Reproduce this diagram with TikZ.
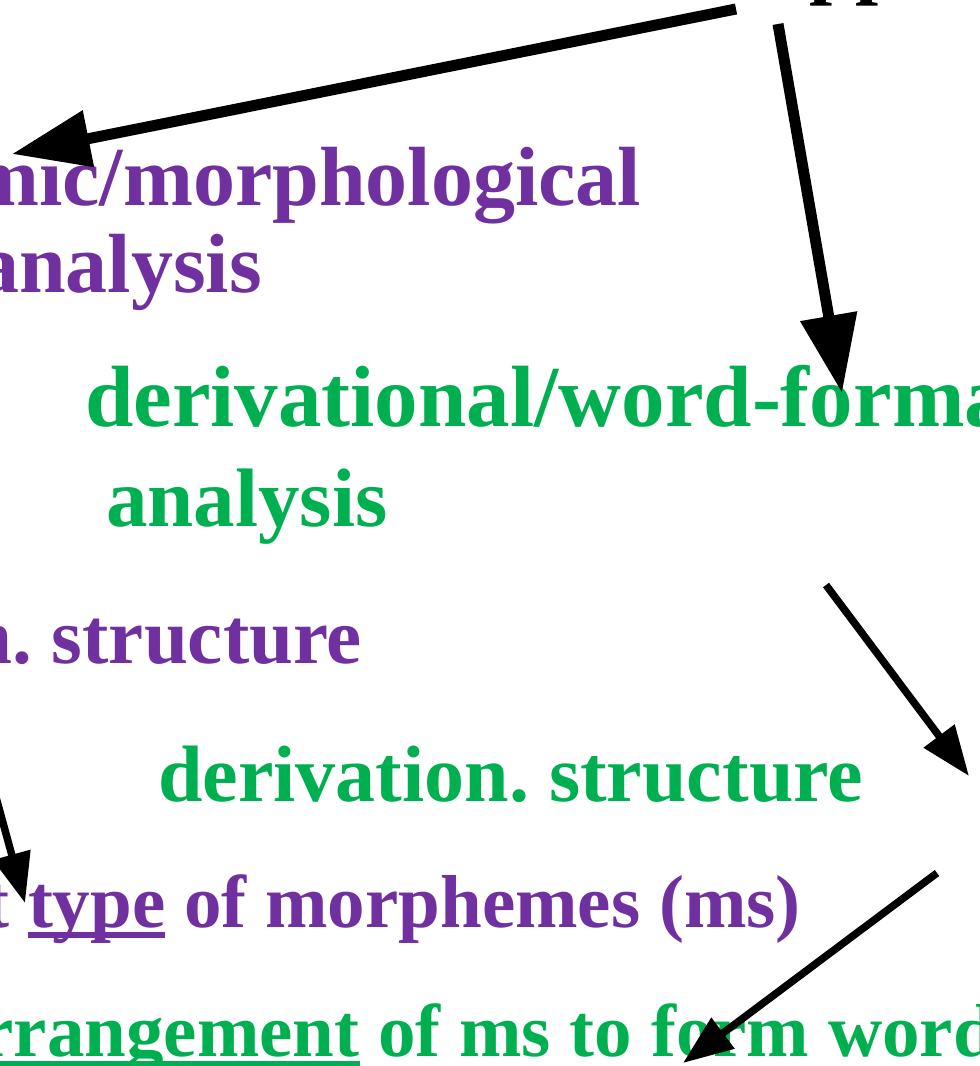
\documentclass[tikz,border=0pt]{standalone}
\usepackage{fontspec}
\setmainfont{Liberation Serif}
\usetikzlibrary{arrows.meta}
\definecolor{ppurple}{HTML}{7030A0}
\definecolor{pgreen}{HTML}{00B050}
\newcommand\myul[1]{\setbox0\hbox{#1}\rlap{\rule[-0.14em]{\wd0}{0.068em}}\box0\relax}
\frenchspacing
\begin{document}
\begin{tikzpicture}[x=1pt,y=-1pt,
  fs/.style={inner sep=0pt, outer sep=0pt, font=\bfseries\fontsize{#1}{#1}\selectfont},
  pur/.style={fs=#1, text=ppurple},
  grn/.style={fs=#1, text=pgreen},
  blk/.style={fs=#1, text=black},
  bigarrow/.style={line width=11pt, -{Triangle[length=78pt,width=55pt]}},
  smallarrow/.style={line width=7.5pt, -{Triangle[length=50pt,width=37pt]}}]
\useasboundingbox (0,0) rectangle (980,1066);

% texts
\node[blk=83, anchor=base west] (title) at (768,-12) {approaches};
\node[pur=84, anchor=base east] (morph1) at (641,205) {morphemic/morphological};
\node[pur=84, anchor=base east] (morph2) at (262,292) {analysis};
\node[grn=87, anchor=base west] (deriv1) at (85,426) {derivational/word-formation};
\node[grn=83, anchor=base west] (deriv2) at (106,526) {analysis};
\node[pur=79, anchor=base east] (mstruct) at (362,663) {composition. structure};
\node[grn=80, anchor=base west] (dstruct) at (158,801) {derivation. structure};
\node[pur=75, anchor=base west] (mtype) at (28,927) {\llap{what }\myul{type} of morphemes (ms)};
\node[grn=75, anchor=base west] (darr) at (-57,1056) {\myul{arrangement} of ms to form words};

% arrow end points
\coordinate (a1s) at (736,9);
\coordinate (a1e) at (12,154);
\coordinate (a2s) at (778,24);
\coordinate (a2e) at (842,393);
\coordinate (a3s) at (826,585);
\coordinate (a3e) at (969,776);
\coordinate (a4s) at (937,873);
\coordinate (a4e) at (683,1063);
\coordinate (a5s) at (-6,790);
\coordinate (a5e) at (25,903);

\draw[bigarrow] (a1s) -- (a1e);
\draw[bigarrow] (a2s) -- (a2e);
\draw[smallarrow] (a3s) -- (a3e);
\draw[smallarrow] (a4s) -- (a4e);
\draw[smallarrow] (a5s) -- (a5e);
\end{tikzpicture}
\end{document}
